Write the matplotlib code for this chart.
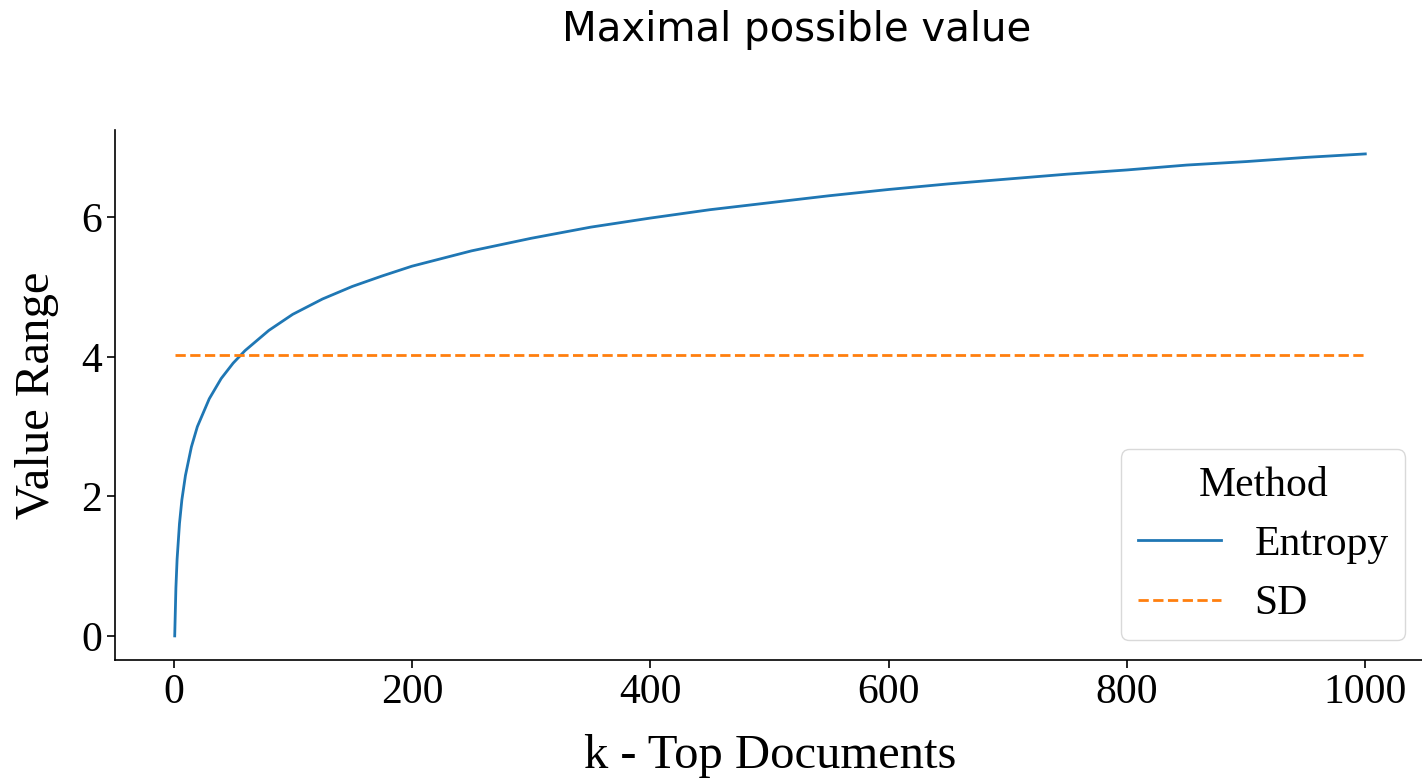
import matplotlib
matplotlib.use("Agg")
import matplotlib.pyplot as plt

# values
k_docs = [1, 2, 3, 5, 7, 10, 15, 20, 30, 40, 50, 60, 80, 100, 125, 150, 175,
          200, 250, 300, 350, 400, 450, 500, 550, 600, 650, 700, 750, 800,
          850, 900, 950, 1000]
entropy = [0.0, 0.69, 1.10, 1.61, 1.95, 2.30, 2.71, 3.00, 3.40, 3.69, 3.91,
           4.09, 4.38, 4.61, 4.83, 5.01, 5.16, 5.30, 5.52, 5.70, 5.86, 5.99,
           6.11, 6.21, 6.31, 6.40, 6.48, 6.55, 6.62, 6.68, 6.75, 6.80, 6.86,
           6.91]
sd_value = 4.03

plt.rcParams['font.family'] = ['Liberation Serif', 'DejaVu Serif']

fig = plt.figure(figsize=(14.22, 7.82), dpi=100)
ax = fig.add_axes([0.081, 0.156, 0.921, 0.678])

ax.plot(k_docs, entropy, color='#1f77b4', lw=2, label='Entropy')
ax.plot([k_docs[0], k_docs[-1]], [sd_value, sd_value], color='#ff7f0e',
        lw=2, ls='--', label='SD')

ax.set_xticks([0, 200, 400, 600, 800, 1000])
ax.set_yticks([0, 2, 4, 6])
ax.tick_params(labelsize=30, length=6, width=1.2)
ax.set_xlabel('k - Top Documents', fontsize=35, labelpad=16)
ax.set_ylabel('Value Range', fontsize=35, labelpad=16)
for s in ['top', 'right']:
    ax.spines[s].set_visible(False)
for s in ['left', 'bottom']:
    ax.spines[s].set_linewidth(1.2)

leg = ax.legend(title='Method', loc='lower right', fontsize=30,
                title_fontsize=30, frameon=True, fancybox=True,
                bbox_to_anchor=(0.985, 0.038), borderaxespad=0)
leg.get_frame().set_edgecolor('#d0d0d0')

fig.text(0.56, 0.962, 'Maximal possible value', ha='center', va='center',
         fontsize=29, family='DejaVu Sans')

fig.savefig('out.png', dpi=100)
